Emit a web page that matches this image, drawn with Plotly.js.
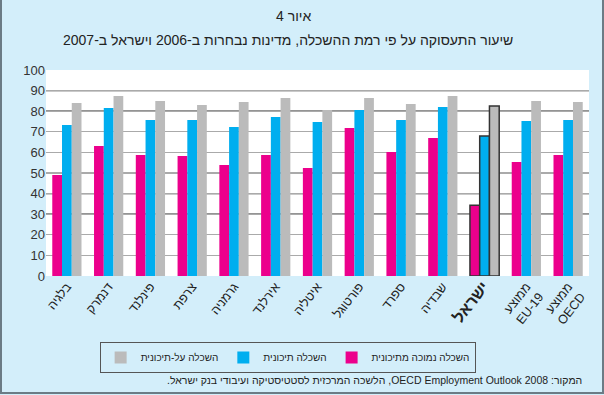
<!DOCTYPE html>
<html>
<head>
<meta charset="utf-8">
<script src="https://cdn.plot.ly/plotly-3.0.1.min.js"></script>
<style>
  html, body { margin: 0; padding: 0; background: #d3eefa; }
  #wrap { position: relative; width: 604px; height: 395px; }
  #chart { position: absolute; left: 0; top: 0; width: 604px; height: 395px; }
  #frame { position: absolute; left: 0; top: -3px; width: 604px; height: 397px; box-sizing: border-box;
           border: 2px solid #6b7b85; pointer-events: none; }
</style>
</head>
<body>
<div id="wrap"><div id="chart"></div><div id="frame"></div></div>
<script>
// ---- data ----
const categories = ["בלגיה", "דנמרק", "פינלנד", "צרפת", "גרמניה", "אירלנד", "איטליה",
                    "פורטוגל", "ספרד", "שבדיה", "ישראל", "ממוצע EU-19", "ממוצע OECD"];
const tickLabels = ["בלגיה", "דנמרק", "פינלנד", "צרפת", "גרמניה", "אירלנד", "איטליה",
                    "פורטוגל", "ספרד", "שבדיה", "<span style=\"font-size:16px\"><b>ישראל</b></span>",
                    "ממוצע<br>EU-19", "ממוצע<br>OECD"];
const lowEdu  = [49.0, 63.1, 58.7, 58.3, 53.9, 58.7, 52.4, 71.8, 60.2, 67.0, 34.3, 55.3, 58.7];
const midEdu  = [73.3, 81.6, 75.7, 75.7, 72.3, 77.2, 74.8, 80.6, 75.7, 82.0, 68.0, 75.2, 75.7];
const highEdu = [84.0, 87.4, 85.0, 83.0, 84.5, 86.4, 80.6, 86.4, 83.5, 87.4, 82.5, 85.0, 84.5];
const seriesNames = ["השכלה נמוכה מתיכונית", "השכלה תיכונית", "השכלה על-תיכונית"];
const yTicks = [0, 10, 20, 30, 40, 50, 60, 70, 80, 90, 100];
const darkGrid = [30, 40, 80, 90];
const highlight = "ישראל";

// ---- styling ----
const colors = ["#ec008c", "#00aeef", "#bbbbbb"];
const outlineW = categories.map(c => c === highlight ? 1.5 : 0);
const font = "Liberation Sans, Arial, sans-serif";
const rtl = s => "\u202B" + s + "\u202C";

const series = [lowEdu, midEdu, highEdu];
const traces = series.map((vals, i) => ({
  type: "bar",
  x: categories,
  y: vals,
  name: seriesNames[i],
  marker: { color: colors[i], line: { color: "#333333", width: outlineW } },
  hoverinfo: "x+y"
}));

const shapes = darkGrid.map(v => ({
  type: "line", xref: "paper", x0: 0, x1: 1, yref: "y", y0: v, y1: v,
  line: { color: "#2a2a2a", width: 1.3 }, layer: "below"
}));

const layout = {
  width: 604, height: 395,
  margin: { l: 46, r: 15, t: 70, b: 119 },
  paper_bgcolor: "#d3eefa",
  plot_bgcolor: "#ffffff",
  font: { family: font, color: "#222", size: 12 },
  barmode: "group",
  bargap: 0.3,
  bargroupgap: 0,
  showlegend: true,
  legend: {
    orientation: "h", traceorder: "reversed",
    x: 0.445, xanchor: "center", y: -0.32, yanchor: "top",
    bgcolor: "rgba(0,0,0,0)", bordercolor: "#555", borderwidth: 1,
    font: { family: font, size: 10, color: "#222" },
    itemwidth: 30
  },
  xaxis: {
    type: "category",
    tickmode: "array", tickvals: categories, ticktext: tickLabels,
    tickangle: -52,
    tickfont: { family: font, size: 12.5, color: "#222" },
    showgrid: false, zeroline: false, showline: false, ticks: "",
    fixedrange: true
  },
  yaxis: {
    range: [0, 100],
    tickmode: "array", tickvals: yTicks,
    tickfont: { family: font, size: 13, color: "#333" },
    showgrid: true, gridcolor: "#aaaaaa", gridwidth: 1.3,
    zeroline: false, showline: false, ticks: "",
    fixedrange: true
  },
  shapes: shapes,
  annotations: [
    { text: rtl("איור 4"), xref: "paper", yref: "paper", x: 0.455, y: 1.26, showarrow: false,
      font: { family: font, size: 14, color: "#222" }, xanchor: "center", yanchor: "middle" },
    { text: rtl("שיעור התעסוקה על פי רמת ההשכלה, מדינות נבחרות ב-2006 וישראל ב-2007"),
      xref: "paper", yref: "paper", x: 0.445, y: 1.145, showarrow: false,
      font: { family: font, size: 14, color: "#222" }, xanchor: "center", yanchor: "middle" },
    { text: rtl("המקור: OECD Employment Outlook 2008, הלשכה המרכזית לסטטיסטיקה ועיבודי בנק ישראל."),
      xref: "paper", yref: "paper", x: 0.99, y: -0.505, showarrow: false,
      font: { family: font, size: 10.5, color: "#222" }, xanchor: "right", yanchor: "middle" }
  ]
};

Plotly.newPlot("chart", traces, layout, { displayModeBar: false, staticPlot: true });
</script>
</body>
</html>
